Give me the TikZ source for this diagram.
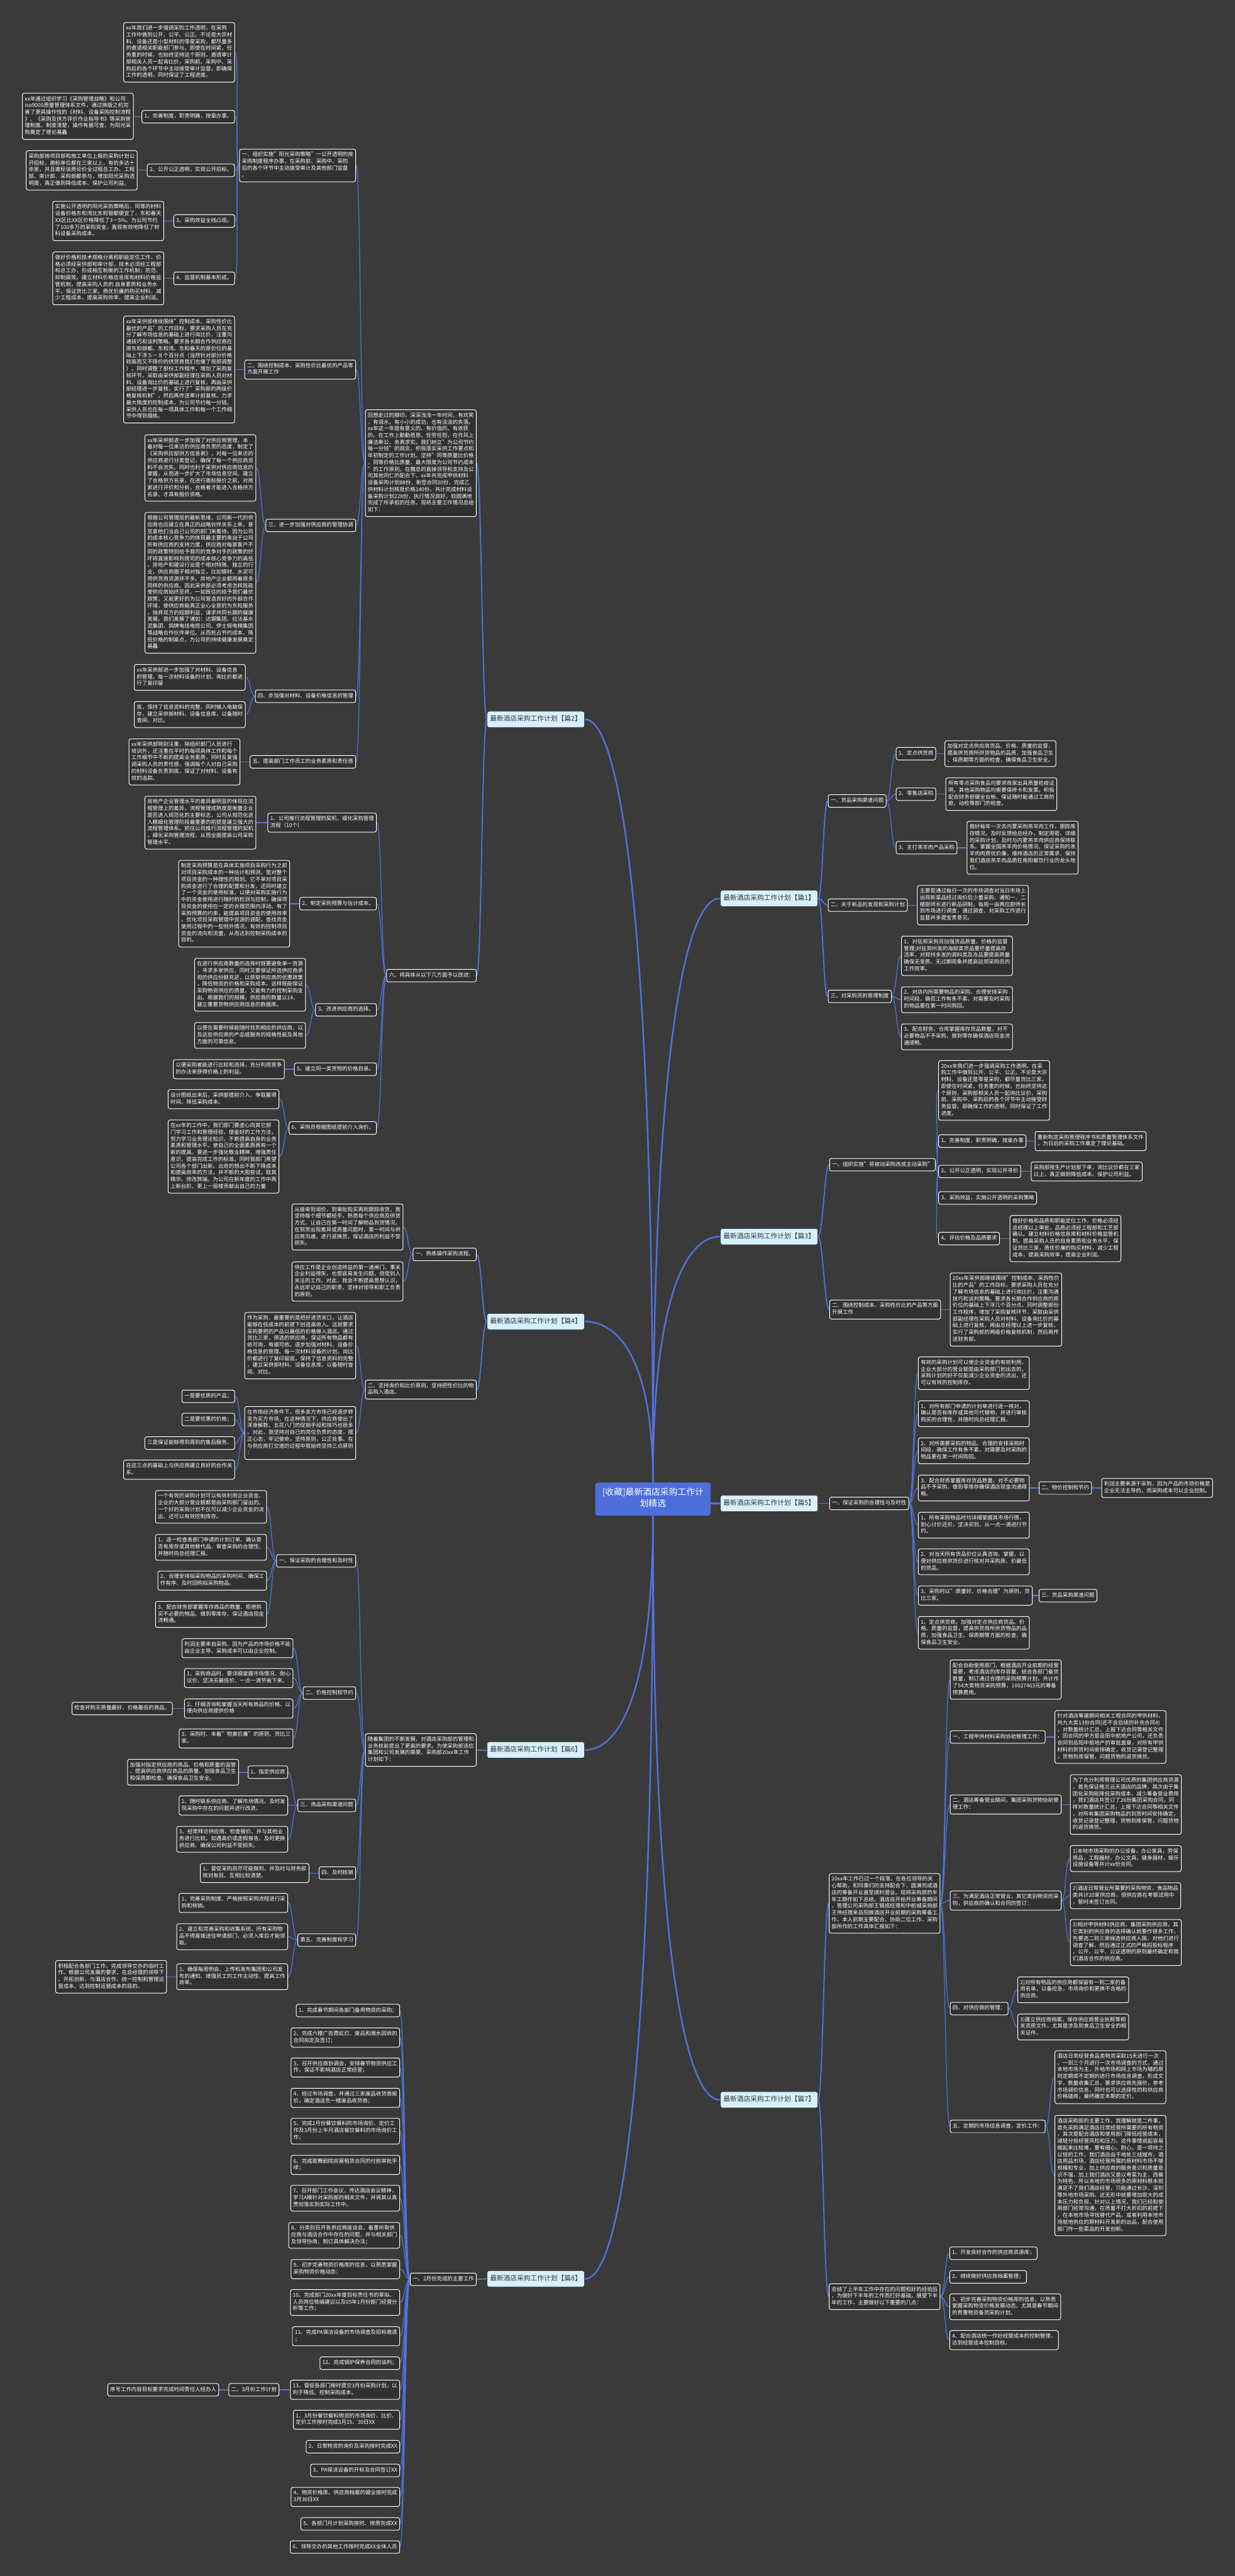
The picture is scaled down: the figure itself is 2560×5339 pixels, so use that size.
\documentclass[tikz,border=0pt]{standalone}
\usepackage{fontspec}
\setmainfont{Noto Sans CJK SC}
\usetikzlibrary{calc}
\definecolor{bgc}{HTML}{3A3A3A}
\definecolor{nfill}{HTML}{313131}
\definecolor{lnc}{HTML}{5272DC}
\definecolor{brfill}{HTML}{D6F1FE}
\definecolor{brtext}{HTML}{333333}
\definecolor{cfill}{HTML}{4D6DDB}
\pgfdeclarelayer{back}
\pgfdeclarelayer{lines}
\pgfsetlayers{back,lines,main}
\tikzset{
  tn/.style={draw=white, line width=1.3pt, fill=nfill, rounded corners=4pt, text=white,
    font=\fontsize{11}{14}\selectfont, align=left, inner xsep=5pt, inner ysep=6pt,
    execute at begin node=\strut, execute at end node=\strut},
  br/.style={draw=black!75, line width=1pt, fill=brfill, rounded corners=4pt, text=brtext,
    font=\fontsize{14}{16}\selectfont, inner xsep=6pt, inner ysep=8.5pt,
    execute at begin node=\strut, execute at end node=\strut},
  ctr/.style={fill=cfill, rounded corners=5pt, text=white,
    font=\fontsize{18}{24}\selectfont, align=center, inner xsep=12pt, inner ysep=11pt,
    minimum width=239pt, execute at begin node=\strut, execute at end node=\strut},
  lnthin/.style={draw=lnc, line width=1.6pt},
  lnmid/.style={draw=lnc, line width=2.4pt},
  lnthick/.style={draw=lnc, line width=3.2pt}
}
\newcommand\LNode[4]{\node[tn,anchor=east] (#1) at (#2,#3) {#4};}
\newcommand\RNode[4]{\node[tn,anchor=west] (#1) at (#2,#3) {#4};}
\newcommand\LC[3][lnthin]{\draw[#1] (#2.west) .. controls +(-10,0) and +(10,0) .. (#3.east);}
\newcommand\RC[3][lnthin]{\draw[#1] (#2.east) .. controls +(10,0) and +(-10,0) .. (#3.west);}
\begin{document}
\begin{tikzpicture}[x=1pt,y=-1pt]
\begin{pgfonlayer}{back}
\fill[bgc] (0,0) rectangle (2560,5339);
\end{pgfonlayer}
\useasboundingbox (0,0) rectangle (2560,5339);

% ---------------- centre and branches
\node[ctr] (c) at (1353.5,3107) {[收藏]最新酒店采购工作计\\划精选};
\node[br,anchor=east] (b2) at (1212,1491) {最新酒店采购工作计划【篇2】};
\node[br,anchor=east] (b4) at (1212,2739) {最新酒店采购工作计划【篇4】};
\node[br,anchor=east] (b6) at (1212,3627) {最新酒店采购工作计划【篇6】};
\node[br,anchor=east] (b8) at (1212,4723) {最新酒店采购工作计划【篇8】};
\node[br,anchor=west] (b1) at (1493,1862) {最新酒店采购工作计划【篇1】};
\node[br,anchor=west] (b3) at (1493,2563) {最新酒店采购工作计划【篇3】};
\node[br,anchor=west] (b5) at (1493,3116) {最新酒店采购工作计划【篇5】};
\node[br,anchor=west] (b7) at (1493,4352) {最新酒店采购工作计划【篇7】};

% ---------------- 篇2
\LNode{a1}{988}{960}{回想走过的脚印，深深浅浅一年时间，有欢笑\\，有泪水，有小小的成功，也有淡淡的失落。\\xx年这一年是有意义的、有价值的、有收获\\的。在工作上勤勤恳恳、任劳任怨，在作风上\\廉洁奉公、务真求实。我们树立"为公司节约\\每一分钱"的观念，积极落实采供工作要点和\\年初制定的工作计划。坚持"同等质量比价格\\，同等价格比质量，最大限度为公司节约成本\\"的工作原则。在魏总的直接领导和支持及公\\司其他同仁的配合下，xx年共完成甲供材料\\设备采购计划88份，新签合同20份，完成乙\\供材料计划核批价格140份，共计完成材料设\\备采购计划228份，执行情况良好，较圆满地\\完成了所承担的任务。现将主要工作情况总结\\如下：}
\LNode{a11}{738}{343}{一、组织实施"阳光采购策略"一公开透明的按\\采购制度程序办事，在采购前、采购中、采购\\后的各个环节中主动接受审计及其他部门监督\\。}
\LNode{a111}{487}{108.5}{xx年我们进一步强调采购工作透明，在采购\\工作中做到公开、公平、公正。不论是大宗材\\料、设备还是小型材料的零星采购，都尽量多\\的邀请相关职能部门参与。即使在时间紧，任\\务重的时候，也始终坚持这个原则，邀请审计\\部相关人员一起询比价，采购前、采购中、采\\购后的各个环节中主动接受审计监督。即确保\\工作的透明，同时保证了工程进度。}
\LNode{a112}{487}{242}{1、完善制度，职责明确，按章办事。}
\LNode{a1121}{277}{241}{xx年通过组织学习《采购管理战略》和公司\\iso9000质量管理体系文件，通过换版之机完\\善了更具操作性的《材料、设备采购控制流程\\》、《采购及供方评价作业指导书》等采购管\\理制度。制度清楚，操作有据可查，为阳光采\\购奠定了理论基矗}
\LNode{a113}{487}{353}{2、公开公正透明，实现公开招标。}
\LNode{a1131}{285}{353}{采购部按项目部和施工单位上报的采购计划公\\开招标，邀标单位都在三家以上，有的多达十\\余家，并且邀标谈质论价全过程总工办、工程\\部、审计部、采购部都参与，增加阳光采购透\\明度，真正做到降低成本、保护公司利益。}
\LNode{a114}{487}{458}{3、采购效益全线凸现。}
\LNode{a1141}{340}{458}{实施公开透明的阳光采购策略后，同等的材料\\设备价格东和湾比东和银都便宜了，东和春天\\XX区比XX区价格降低了3－5\%。为公司节约\\了100多万的采购资金，直观有效地降低了材\\料设备采购成本。}
\LNode{a115}{487}{577}{4、监督机制基本形成。}
\LNode{a1151}{340}{577}{做好价格和技术规格分离和职能定位工作，价\\格必须经采供部和审计部，技术必须经工程部\\和总工办，形成相互制衡的工作机制；防范、\\抑制腐败。建立材料价格信息库和材料价格监\\管机制，提高采购人员的.自身素质和业务水\\平，保证货比三家，质优价廉的购买材料，减\\少工程成本，提高采购效率，提高企业利润。}
\LNode{a12}{738}{766}{二、围绕控制成本、采购性价比最优的产品等\\方面开展工作}
\LNode{a121}{487}{766}{xx年采供部继续围绕"控制成本、采购性价比\\最优的产品"的工作目标，要求采购人员在充\\分了解市场信息的基础上进行询比价，注重沟\\通技巧和谈判策略。要求各长期合作供应商在\\原东和银都、东和湾、东和春天的原价位的基\\础上下浮５－８个百分点（当然针对部分价格\\较高而又不降价的供货商我们也做了局部调整\\）。同时调整了部份工作程序，增加了采购复\\核环节，采取由采供部副经理在采购人员对材\\料、设备询比价的基础上进行复核，再由采供\\部经理进一步复核，实行了"采购部的两级价\\格复核机制"，然后再传送审计部复核。力求\\最大限度的控制成本，为公司节约每一分钱。\\采供人员也在每一项具体工作和每一个工作细\\节中得到烟练。}
\LNode{a13}{738}{1089}{三、进一步加强对供应商的管理协调}
\LNode{a131}{531}{970}{xx年采供部进一步加强了对供应商管理，本\\着对每一位来访的供应商负责的态度，制定了\\《采购供应部供方信息表》，对每一位来访的\\供应商进行分类登记，确保了每一个供应商资\\料不会流失。同时也利于采供对供应商信息的\\掌握，从而进一步扩大了市场信息空间。建立\\了合格供方名录，在进行邀标报价之前，对商\\家进行评价和分析，合格者才能进入合格供方\\名录、才具有报价资格。}
\LNode{a132}{531}{1208}{根据公司管理层的最新思维，公司新一代的供\\应商也应建立在真正的战略伙伴关系上来，甚\\至拿他们当自己公司的部门来看待。因为公司\\的成本核心竞争力的体现最主要的来自于公司\\所有供应商的支持力度，供应商对每家客户不\\同的政策特别给予我司的竞争对手的政策的好\\坏将直接影响到我司的成本核心竞争力的高低\\。房地产和建设行业是个相对特殊、独立的行\\业，供应商圈子相对独立，比如钢材、水泥可\\用供货商资源并不多。房地产企业都用着很多\\同样的供应商。因此采供部必须考虑怎样既能\\使供应商始终至终、一如既往的给予我们最优\\政策，又能更好的为公司营造良好的外部合作\\环境，使供应商能真正全心全意的为东和服务\\，抛弃双方的短期利益，谋求共同长期的健康\\发展。我们发展了诸如：达钢集团、拉法基水\\泥集团、鸽牌电线电缆公司、伊士顿电梯集团\\等战略合作伙伴单位。从而抢占节约成本、降\\低价格的制高点，为公司的持续健康发展奠定\\基矗}
\LNode{a14}{738}{1443}{四、步加强对材料、设备价格信息的管理}
\LNode{a141}{509}{1404}{xx年采供部进一步加强了对材料、设备信息\\的管理，每一次材料设备的计划、询比价都进\\行了复印留}
\LNode{a142}{509}{1481}{底，保持了信息资料的完整，同时输入电脑保\\存，建立采供部材料、设备信息库，以备随时\\查阅、对比。}
\LNode{a15}{738}{1579}{五、提高部门工作员工的业务素质和责任感}
\LNode{a151}{498}{1579}{xx年采供部特别注重，除组织部门人员进行\\培训外，还注重在平时的每项具体工作和每个\\工作细节中不断的提高业务素质，同时反复强\\调采购人员的责任感，强调每个人对自己采购\\的材料设备负责到底，保证了对材料、设备有\\效的追踪。}
\LNode{a2}{988}{2022}{六、将具体从以下几方面予以改进：}
\LNode{a21}{781}{1705}{1、公司推行流程管理的契机，细化采购管理\\流程（10个）}
\LNode{a211}{531}{1705}{房地产企业管理水平的差异最明显的体现在流\\程管理上的差异，流程管理成熟度是衡量企业\\是否进入规范化的主要标志，公司从规范化进\\入精细化管理阶段最重要的前提是建立强大的\\流程管理体系。抓住公司推行流程管理的契机\\，细化采购管理流程，从而全面提高公司采购\\管理水平。}
\LNode{a22}{781}{1873}{2、制定采购预算与估计成本。}
\LNode{a221}{601}{1873}{制定采购预算是在具体实施项目采购行为之前\\对项目采购成本的一种估计和预测，是对整个\\项目资金的一种理性的规划。它不单对项目采\\购资金进行了合理的配置和分发，还同时建立\\了一个资金的使用标准，以便对采购实施行为\\中的资金使用进行随时的检测与控制，确保项\\目资金的使用在一定的合理范围内浮动。有了\\采购预算的约束，能提高项目资金的使用效率\\，优化项目采购管理中资源的调配，查找资金\\使用过程中的一些例外情况，有效的控制项目\\资金的流向和流量，从而达到控制采购成本的\\目的。}
\LNode{a23}{781}{2093}{3、改进供应商的选择。}
\LNode{a231}{634}{2041}{在进行供应商数量的选择时既要避免单一货源\\，寻求多家供应，同时又要保证所选供应商承\\担的供应份额充足，以获取供应商的优惠政策\\，降低物资的价格和采购成本。这样既能保证\\采购物资供应的质量，又能有力的控制采购支\\出。根据我们的规模，供应商的数量以14、\\建立重要货物供应商信息的数据库。}
\LNode{a232}{634}{2146}{以便在需要时候能随时找到相应的供应商，以\\及这些供应商的产品或服务的规格性能及其他\\方面的可靠信息。}
\LNode{a24}{781}{2216}{5、建立同一类货物的价格目录。}
\LNode{a241}{590}{2216}{以便采购者能进行比较和选择，充分利用竞争\\的办法来获得价格上的利益。}
\LNode{a25}{781}{2338}{6、采购员根据图纸提前介入询价。}
\LNode{a251}{579}{2278}{设计图纸出来后，采供部提前介入，争取赢得\\时间，降低采购成本。}
\LNode{a252}{579}{2397}{在xx年的工作中，我们部门要虚心向其它部\\门学习工作和管理经验，借鉴好的工作方法，\\努力学习业务理论知识，不断提高自身的业务\\素质和管理水平。使自己的全面素质再有一个\\新的提高。要进一步强化敬业精神，增强责任\\意识，提高完成工作的标准。同时我部门希望\\公司各个部门出新、出奇的想出不断下降成本\\和提高效率的方法，并不断的大胆尝试，取其\\精华、修改弊端。为公司在新年度的工作中再\\上新台阶、更上一层楼贡献出自己的力量}

% ---------------- 篇4
\LNode{c1}{988}{2600}{一、熟练操作采购流程。}
\LNode{c11}{836}{2543}{从接单到询价，到审批购买再到跟踪收货，我\\坚持每个细节都经手，熟悉每个供应商及供货\\方式。让自己在第一时间了解物品到货情况。\\在到货出现差异或质量问题时，第一时间与供\\应商沟通，进行退换货，保证酒店的利益不受\\损失。}
\LNode{c12}{836}{2656}{供应工作是企业创造效益的第一道闸门，事关\\企业利益得失，也是容易发生问题、倍受别人\\关注的工作。对此，我会不断提高思想认识，\\永远牢记自己的职责，坚持对领导和职工负责\\的原则。}
\LNode{c2}{988}{2880}{二、坚持询价和比价原则，坚持把性价比的物\\品购入酒店。}
\LNode{c21}{738}{2789}{作为采购，最重要的是把好进货关口，让酒店\\能够在低成本的前提下创造高收入。这就要求\\采购要把的产品以最低的价格够入酒店。通过\\货比三家，筛选的供应商，保证所有物品都有\\依可询，有据可依。逐步加强对材料、设备价\\格信息的管理。每一次材料设备的计划、询比\\价都进行了复印留底，保持了信息资料的完整\\，建立采供部材料、设备信息库，以备随时查\\阅、对比。}
\LNode{c22}{738}{2970}{在市场经济条件下，很多卖方市场已经逐步转\\变为买方市场，在这种情况下，供应商使出了\\浑身解数，五花八门的促销手段和技巧也很多\\。对此，我坚持对自己的岗位负责的态度，摆\\正心态，牢记使命，坚持原则，公正处事。在\\与供应商打交道的过程中我始终坚持三点原则\\：}
\LNode{c221}{487}{2894}{一是要优质的产品；}
\LNode{c222}{487}{2942}{二是要优惠的价格；}
\LNode{c223}{487}{2991}{三是保证能够得到周到的售后服务。}
\LNode{c224}{487}{3046}{在这三点的基础上与供应商建立良好的合作关\\系。}

% ---------------- 篇6
\LNode{d}{988}{3627}{随着集团的不断发展、对酒店采购部的管理和\\业务技能提出了更高的要求。为使采购部适应\\集团和公司发展的需要、采购部20xx年工作\\计划如下：}
\LNode{d1}{738}{3235}{一、保证采购的合理性和及时性}
\LNode{d11}{553}{3123}{一个有效的采购计划可以有效利用企业资金、\\企业的大部分营业额都是由采购部门留出的。\\一个好的采购计划不仅可以减少企业资金的流\\出、还可以有效控制库存。}
\LNode{d12}{553}{3207}{1、逐一检查各部门申请的计划订单、确认是\\否有库存或其他替代品、审查采购的合理性、\\并随时向总经理汇报。}
\LNode{d13}{553}{3276}{2、合理安排拟采购物品的采购时间、确保工\\作有序、及时回购拟采购物品。}
\LNode{d14}{553}{3346}{3、配合财务部掌握库存商品的数量、拒绝购\\买不必要的物品、做到零库存、保证酒店现金\\流畅通。}
\LNode{d2}{738}{3509}{二、价格控制和节约}
\LNode{d21}{608}{3416}{利润主要来自采购、因为产品的市场价格不能\\由企业主导、采购成本可以由企业控制。}
\LNode{d22}{608}{3478}{1、采购商品时、要详细掌握市场情况、耐心\\议价、坚决买最低价、一点一滴节省下来。}
\LNode{d23}{608}{3541}{2、仔细咨询和掌握当天所有商品的价格、以\\便向供应商提供价格}
\LNode{d231}{358}{3541}{检查并购买质量最好、价格最低的商品。}
\LNode{d24}{608}{3603}{3、采购时、本着"物美价廉"的原则、货比三\\家。}
\LNode{d3}{738}{3742}{三、商品采购渠道问题}
\LNode{d31}{597}{3673}{1、指定供应商}
\LNode{d311}{495}{3673}{加强对指定供应商的商品、价格和质量的监管\\、提高供应商供应商品的质量、加强食品卫生\\和保质期检查、确保食品卫生安全。}
\LNode{d32}{597}{3742}{2、随时联系供应商、了解市场情况、及时发\\现采购中存在的问题并进行改进。}
\LNode{d33}{597}{3812}{3、经常拜访供应商、检查报价、并与其他业\\务进行比较。如遇高价或虚假报告、及时更换\\供应商、确保公司利益不受损失。}
\LNode{d4}{738}{3882}{四、及时核销}
\LNode{d41}{641}{3882}{1、督促采购员尽可能做到、并及时与财务部\\核对账目。互相比较清楚。}
\LNode{d5}{738}{4021}{第五、完善制度和学习}
\LNode{d51}{597}{3944}{1、完善采购制度、严格按照采购流程进行采\\购和核销。}
\LNode{d52}{597}{4014}{2、建立和完善采购和收集系统。所有采购物\\品不得直接送往申请部门、必须入库后才能领\\取。}
\LNode{d53}{597}{4097}{3、确保每周例会、上传和发布集团和公司发\\布的通知、增强员工的工作主动性、提高工作\\效率。}
\LNode{d531}{346}{4097}{积极配合各部门工作、完成领导交办的临时工\\作。根据公司发展的要求、在总经理的领导下\\、开拓创新、与酒店合作、统一控制和管理运\\营成本、达到控制运营成本的目的。}

% ---------------- 篇8
\LNode{e}{988}{4724}{一、2月份完成的主要工作}
\LNode{e1}{829}{4167}{1、完成春节期间各部门备用物资的采购；}
\LNode{e2}{829}{4223}{2、完成六楼广告霓虹灯、废品和潲水回收的\\合同拟定及签订；}
\LNode{e3}{829}{4285}{3、召开供应商协调会，安排春节物资供应工\\作，保证不影响酒店正常经营；}
\LNode{e4}{829}{4348}{4、经过市场调查，并通过三家废品收货商报\\价，确定酒店负一楼废品收货商；}
\LNode{e5}{829}{4417}{5、完成2月份餐饮餐料的市场询价、定价工\\作及3月份上半月酒店餐饮餐料的市场询价工\\作；}
\LNode{e6}{829}{4487}{6、完成歌舞剧院房屋租赁合同的付款审批手\\续；}
\LNode{e7}{829}{4556}{7、召开部门工作会议，传达酒店会议精神，\\学习A模针对采购部的相关文件，并将其认真\\贯彻落实到实际工作中。}
\LNode{e8}{829}{4633}{8、分类别召开各供应商座谈会，着重听取供\\应商与酒店合作中存在的问题，并与相关部门\\及领导协商、制订具体解决办法；}
\LNode{e9}{829}{4703}{9、初步完善物资价格库的信息，以熟悉掌握\\采购物资价格动态；}
\LNode{e10}{829}{4772}{10、完成部门20xx年度目标责任书的草拟、\\人员岗位核编建议以及05年1月份部门经营分\\析等工作；}
\LNode{e11}{829}{4842}{11、完成PA保洁设备的市场调查及招标邀请\\；}
\LNode{e12}{829}{4898}{12、完成锅炉保养合同的谈判；}
\LNode{e13}{829}{4953}{13、督促各部门按时提交3月份采购计划，以\\利于降低、控制采购成本。}
\LNode{e131}{579}{4953}{二、3月份工作计划}
\LNode{e1311}{454}{4953}{序号工作内容目标要求完成时间责任人经办人}
\LNode{m1}{829}{5015}{1、3月份餐饮餐料物资的市场询价、比价、\\定价工作按时完成3月15、30日XX}
\LNode{m2}{829}{5071}{2、日常物资的询价及采购按时完成XX}
\LNode{m3}{829}{5120}{3、PA保洁设备的开标及合同签订XX}
\LNode{m4}{829}{5175}{4、物资价格库、供应商档案的健全按时完成\\3月30日XX}
\LNode{m5}{829}{5231}{5、各部门月计划采购按时、按质完成XX}
\LNode{m6}{829}{5279}{6、领导交办的其他工作按时完成XX全体人员}

% ---------------- 篇1
\RNode{f1}{1716}{1660}{一、货品采购渠道问题}
\RNode{f11}{1857}{1562}{1、定点供货商}
\RNode{f111}{1958}{1562}{加强对定点供应商货品、价格、质量的监督，\\提高供货商所供货物品的品质，加强食品卫生\\、保质期等方面的检查，确保食品卫生安全。}
\RNode{f12}{1857}{1646}{2、零售店采购}
\RNode{f121}{1960}{1646}{所有零点采购食品均要求商家出具质量检疫证\\明，其他采购物品均索要保修卡和发票。积极\\配合财务部健全台帐、保证随时能通过工商防\\疫、动检等部门的检查。}
\RNode{f13}{1857}{1757}{3、主打羔羊肉产品采购}
\RNode{f131}{2004}{1757}{做好每年一次去内蒙采购羔羊肉工作，跟踪库\\存情况。及时反馈给总经办，制定周密、详细\\的采购计划，及时与内蒙羔羊肉供应商保持联\\系。掌握全国羔羊肉价格情况。保证采购的羔\\羊肉肉质优价廉，维持酒店的正常需求，保持\\我们酒店羔羊肉品质在南阳餐饮行业的龙头地\\位。}
\RNode{f2}{1716}{1876}{二、关于新品的发现和采购计划}
\RNode{f21}{1901}{1876}{主要是通过每日一次的市场调查对当日市场上\\出现新菜品经过询价后少量采购，通知一、二\\楼厨师长进行新品研制，每周一由两位厨师长\\到市场进行调查，通过调查，对采购工作进行\\监督并多提宝贵意见。}
\RNode{f3}{1716}{2065}{三、对采购员的管理制度}
\RNode{f31}{1868}{1981}{1、对驻郑采购员加强货品质量、价格的监督\\管理;对驻郑州发的海鲜类货品要尽量提高存\\活率，对郑州多发的调料类及冻品要提高质量\\确保无变质、无过期现象并提高驻郑采购员的\\工作效率。}
\RNode{f32}{1868}{2072}{2、对店内所需要物品的采购、合理安排采购\\时间段，确否工作有条不紊，对需要及时采购\\的物品要在第一时间购回。}
\RNode{f33}{1868}{2149}{3、配合财务、仓库掌握库存货品数量，对不\\必要物品不予采购，做到零存确保酒店现金流\\通顺畅。}

% ---------------- 篇3
\RNode{g1}{1719}{2414}{一、组织实施"将被动采购改成主动采购"}
\RNode{g11}{1945}{2260}{20xx年我们进一步强调采购工作透明，在采\\购工作中做到公开、公平、公正。不论是大宗\\材料、设备还是零星采购，都尽量货比三家。\\即使在时间紧，任务重的时候，也始终坚持这\\个原则，采购部相关人员一起询比议价，采购\\前、采购中、采购后的各个环节中主动接受财\\务监督。即确保工作的透明，同时保证了工作\\进度。}
\RNode{g12}{1945}{2365}{1、完善制度，职责明确，按章办事}
\RNode{g121}{2145}{2365}{重新制定采购管理程序书和质量管理体系文件\\，为日后的采购工作奠定了理论基础。}
\RNode{g13}{1945}{2428}{2、公开公正透明，实现公开寻价}
\RNode{g131}{2137}{2428}{采购部按生产计划部下单，询比议价都在三家\\以上，真正做到降低成本、保护公司利益。}
\RNode{g14}{1945}{2483}{3、采购效益，实施公开透明的采购策略}
\RNode{g15}{1945}{2567}{4、评估价格及品质要求}
\RNode{g151}{2093}{2567}{做好价格和品质和职能定位工作，价格必须经\\总经理以上审批，品质必须经工程部和工艺部\\确认。建立材料价格信息库和材料价格监管机\\制，提高采购人员的自身素质和业务水平，保\\证货比三家，质优价廉的购买材料，减少工程\\成本，提高采购效率，提高企业利润。}
\RNode{g2}{1719}{2714}{二、围绕控制成本、采购性价比的产品等方面\\开展工作}
\RNode{g21}{1969}{2714}{20xx年采供部继续围绕"控制成本、采购性价\\比的产品"的工作目标，要求采购人员在充分\\了解市场信息的基础上进行询比价，注重沟通\\技巧和谈判策略。要求各长期合作供应商的原\\价位的基础上下浮几个百分点，同时调整部份\\工作程序，增加了采购复核环节，采取由采供\\部副经理在采购人员对材料、设备询比价的基\\础上进行复核，再由总经理以上进一步复核，\\实行了采购部的两级价格复核机制，然后再传\\送财务部。}

% ---------------- 篇5
\RNode{h}{1719}{3116}{一、保证采购的合理性与及时性}
\RNode{h1}{1903}{2846}{有效的采购计划可以使企业资金的有效利用，\\企业大部分的营业额是由采购部门划出去的，\\采购计划的好不仅能减少企业资金的流出，还\\可以有效的控制库存。}
\RNode{h2}{1903}{2930}{1、对所有部门申请的计划单进行逐一核对，\\确认是否有库存或其他可代替物，并进行审核\\购买的合理性，并随时向总经理汇报。}
\RNode{h3}{1903}{3007}{2、对所需要采购的物品、合理的安排采购时\\间段，确保工作有条不紊，对需要及时采购的\\物品要在第一时间购回。}
\RNode{h4}{1903}{3084}{3、配合财务掌握库存货品数量，对不必要物\\品不予采购，做到零库存确保酒店现金流通顺\\畅。}
\RNode{h41}{2153}{3084}{二、物价控制和节约}
\RNode{h411}{2283}{3084}{利润主要来源于采购，因为产品的市场价格是\\企业无法主导的，而采购成本可以企业控制。}
\RNode{h5}{1903}{3161}{1、所有采购物品时均详细掌握其市场行情，\\耐心讨价还价，坚决买到，从一点一滴进行节\\约。}
\RNode{h6}{1903}{3237}{2、对当天所有货品价位认真咨询、掌握，以\\便对供应商供货价进行核对并采购质、价最低\\的货品。}
\RNode{h7}{1903}{3307}{3、采购时以"质量好、价格合理"为原则，货\\比三家。}
\RNode{h71}{2153}{3307}{三、货品采购渠道问题}
\RNode{h8}{1903}{3384}{1、定点供货商。加强对定点供应商货品、价\\格、质量的监督，提高供货商所供货物品的品\\质，加强食品卫生、保质期等方面的检查，确\\保食品卫生安全。}

% ---------------- 篇7
\RNode{k}{1718}{3945}{20xx年工作已过一个段落，在各位领导的关\\心帮助，和同事们的支持配合下，圆满完成酒\\店的筹备开业直至顺利营业。现将采购部的半\\年工期作如下总结。酒店自开始开业筹备期间\\，管理公司采购部王锡成经理和中航城采购部\\王伟经理来岳阳做酒店开业前期的采购筹备工\\作，本人前期主要配合、协助二位工作，采购\\部所作的工作具体汇报如下：}
\RNode{k1}{1969}{3481}{配合协助使用部门，根据酒店开业前期的经营\\需要，考虑酒店的库存容量，结合各部门备货\\数量，制订通过合理的采购预算计划，共计作\\了54大类物资采购预算，10027463元的筹备\\预算费用。}
\RNode{k2}{1969}{3600}{一、工程甲供材料采购协助管理工作：}
\RNode{k21}{2186}{3600}{针对酒店筹建期间相关工程合同的甲供材料，\\共九大类13份合同(还不含后续的补充合同4)\\，对数量统计汇总，上报下达合同等相关文件\\，因合同的甲方是岳阳中航地产公司，还负责\\合同到岳阳中航地产的审批盖章，对所有甲供\\材料的到货时间安排确定，收货记录登记整理\\，货物到库保管，问题货物的退货换货。}
\RNode{k3}{1969}{3740}{二、酒店筹备营业期间，集团采购货物协助管\\理工作：}
\RNode{k31}{2218}{3740}{为了充分利用管理公司优质的集团供应商资源\\，首先保证格兰云天酒店的品牌，其次由于集\\团化采购能降低采购成本，减少筹备营业费用\\，我们酒店共签订了26份集团采购合同，同\\样对数量统计汇总，上报下达合同等相关文件\\，对所有集团采购物品的到货时间安排确定，\\收货记录登记整理，货物到库保管，问题货物\\的退货换货。}
\RNode{k4}{1969}{3939}{三、为满足酒店正常营业，其它类别物资的采\\购，供应商的确认和合同的签订：}
\RNode{k41}{2218}{3852}{1)本地市场采购的办公设备，办公家具，劳保\\用品，工程器材，办公文具，健身器材，娱乐\\设施设备等共计xx份合同。}
\RNode{k42}{2218}{3929}{2)酒店日常营业所需要的采购物资，食品物品\\类共计20家供应商，但供应商在考察试用中\\，暂时未签订合同。}
\RNode{k43}{2218}{4026}{3)相对甲供材料供应商，集团采购供应商，其\\它类别的供应商的选择确认就要作很多工作，\\先要选二到三家候选供应商入围，对他们进行\\调查了解，然后通过正式的严格招投标程序\\，公开、公平、公证透明的原则最终确定和我\\们酒店合作的供应商。}
\RNode{k5}{1969}{4163}{四、对供应商的管理：}
\RNode{k51}{2109}{4124}{2)对所有物品的供应商都保留有一到二家的备\\用名单，以备应急，市场询价和更换不合格的\\供应商。}
\RNode{k52}{2109}{4201}{3)建立供应商档案，保存供应商营业执照等相\\关资质文件，尤其是涉及到食品卫生安全的相\\关证件。}
\RNode{k6}{1969}{4407}{五、定期的市场信息调查，定价工作：}
\RNode{k61}{2186}{4305}{酒店日常经营食品类物资采取15天进行一次\\、一到三个月进行一次市场调查的方式，通过\\本地市场为主，外地市场和网上市场为辅的原\\则定期或不定期的进行市场信息调查。形成文\\字，数量收集汇总，要求供应商先报价，参考\\市场调价信息，同时也可以选择性的和供应商\\价格磋商，最终确定本期的定价。}
\RNode{k62}{2186}{4509}{酒店采购部的主要工作，我理解就是二件事，\\首先采购满足酒店日常经营所需要的所有物资\\，其次是配合酒店和使用部门降低经营成本，\\减轻分担经营风险和压力。这件事情说起容易\\做起来比较难，要有细心、耐心，是一项持之\\以恒的工作，我们酒店由于地处三线城市，酒\\店用品市场，酒店经营所需的原材料市场不够\\规模和专业，加上供应商的服务意识和质量意\\识不强，加上我们酒店又是以粤菜为主，西餐\\为特色，所以本地的市场很多的原材料根本就\\满足不了我们酒店经营，只能通过长沙、深圳\\等外地市场采购，这无形中就要增加很大的成\\本压力和负担，针对以上情况，我们已经和使\\用部门经常沟通，在质量不打大折扣的前提下\\，在本地市场寻找替代产品，或者利用本地市\\场就地供应的原材料开发新的出品，配合使用\\部门作一些菜品的开发创新。}
\RNode{q}{1718}{4760}{总结了上半年工作中存在的问题和好的经验后\\，为做好下半年的工作而打好基础，展望下半\\年的工作，主要做好以下重要的几点：}
\RNode{q1}{1968}{4670}{1、开发良好合作的供应商资源库；}
\RNode{q2}{1968}{4719}{2、继续做好供应商档案管理；}
\RNode{q3}{1968}{4781}{3、初步完善采购物资价格库的信息，以熟悉\\掌握采购物资价格发展动态，尤其是春节期间\\的贵重物资备货采购计划。}
\RNode{q4}{1968}{4850}{4、配合酒店统一作好经营成本的控制管理，\\达到经营成本控制目标。}

% ---------------- connectors
\begin{pgfonlayer}{lines}
\foreach \b in {b2,b4} {\draw[lnthick] (c.north) .. controls (c.north |- \b.east) and ($(\b.east)+(20,0)$) .. (\b.east);}
\foreach \b in {b1,b3} {\draw[lnthick] (c.north) .. controls (c.north |- \b.west) and ($(\b.west)+(-20,0)$) .. (\b.west);}
\foreach \b in {b6,b8} {\draw[lnthick] (c.south) .. controls (c.south |- \b.east) and ($(\b.east)+(20,0)$) .. (\b.east);}
\draw[lnthick] (c.south) .. controls (c.south |- b7.west) and ($(b7.west)+(-20,0)$) .. (b7.west);
\draw[lnthick] (c.east |- b5.west) -- (b5.west);
\foreach \p/\q in {b2/a1,b2/a2,b4/c1,b4/c2,b6/d,b8/e} {\LC[lnmid]{\p}{\q}}
\foreach \p/\q in {b1/f1,b1/f2,b1/f3,b3/g1,b3/g2,b5/h,b7/k,b7/q} {\RC[lnmid]{\p}{\q}}
\foreach \p/\q in {a1/a11,a1/a12,a1/a13,a1/a14,a1/a15,
  a11/a111,a11/a112,a11/a113,a11/a114,a11/a115,
  a112/a1121,a113/a1131,a114/a1141,a115/a1151,a12/a121,
  a13/a131,a13/a132,a14/a141,a14/a142,a15/a151,
  a2/a21,a2/a22,a2/a23,a2/a24,a2/a25,a21/a211,a22/a221,a23/a231,a23/a232,
  a24/a241,a25/a251,a25/a252,
  c1/c11,c1/c12,c2/c21,c2/c22,c22/c221,c22/c222,c22/c223,c22/c224,
  d/d1,d/d2,d/d3,d/d4,d/d5,d1/d11,d1/d12,d1/d13,d1/d14,
  d2/d21,d2/d22,d2/d23,d2/d24,d23/d231,d3/d31,d3/d32,d3/d33,d31/d311,
  d4/d41,d5/d51,d5/d52,d5/d53,d53/d531,
  e/e1,e/e2,e/e3,e/e4,e/e5,e/e6,e/e7,e/e8,e/e9,e/e10,e/e11,e/e12,e/e13,
  e/m1,e/m2,e/m3,e/m4,e/m5,e/m6,e13/e131,e131/e1311} {\LC{\p}{\q}}
\foreach \p/\q in {f1/f11,f1/f12,f1/f13,f11/f111,f12/f121,f13/f131,f2/f21,
  f3/f31,f3/f32,f3/f33,
  g1/g11,g1/g12,g1/g13,g1/g14,g1/g15,g12/g121,g13/g131,g15/g151,g2/g21,
  h/h1,h/h2,h/h3,h/h4,h/h5,h/h6,h/h7,h/h8,h4/h41,h41/h411,h7/h71,
  k/k1,k/k2,k/k3,k/k4,k/k5,k/k6,k2/k21,k3/k31,k4/k41,k4/k42,k4/k43,
  k5/k51,k5/k52,k6/k61,k6/k62,q/q1,q/q2,q/q3,q/q4} {\RC{\p}{\q}}
\end{pgfonlayer}
\end{tikzpicture}
\end{document}
